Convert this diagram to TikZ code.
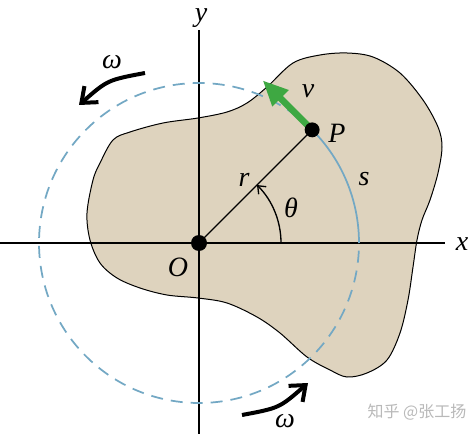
\documentclass[tikz,border=0pt]{standalone}
\usepackage{fontspec}
\setmainfont{Liberation Serif}
\newfontfamily\cjk{Noto Sans CJK SC}
\usetikzlibrary{arrows.meta,calc}
\definecolor{bodyfill}{RGB}{222,211,190}
\definecolor{circblue}{RGB}{115,168,196}
\definecolor{velgreen}{RGB}{62,168,66}
\definecolor{wmgray}{RGB}{185,185,185}
\begin{document}
\begin{tikzpicture}[x=0.75pt,y=-0.75pt,
  lbl/.style={font=\fontsize{21}{25}\selectfont\itshape, inner sep=0pt},
  wm/.style={font=\cjk\fontsize{12}{14}\selectfont, text=wmgray, inner sep=0pt},
  axis/.style={line width=1.1pt, draw=black},
  circ/.style={line width=1.3pt, draw=circblue},
  circdash/.style={circ, dash pattern=on 9pt off 6pt},
  velarrow/.style={line width=5pt, draw=velgreen, -{Triangle[length=19pt,width=16pt]}},
  omegaarrow/.style={line width=3pt, -{Straight Barb[length=10pt,width=16pt]}},
  thetaarrow/.style={line width=1pt, -{Straight Barb[length=5pt,width=8pt]}}]
\useasboundingbox (0,0) rectangle (474,434);
\fill[white] (0,0) rectangle (474,434);
\coordinate (O) at (199,243);
% body
\filldraw[fill=bodyfill, draw=black, line width=0.75pt] plot[smooth cycle, tension=0.55] coordinates {
(100,163) (113,140) (130,132) (163,123) (198,118) (227,112) (247,103) (267,87)
(293,63) (320,55) (347,53) (373,57) (400,73) (423,100) (438,127) (442,147)
(438,173) (430,200) (422,220) (417,240) (413,267) (408,300) (400,333) (387,360)
(367,373) (347,377) (330,370) (307,357) (280,333) (257,317) (227,303) (198,298)
(167,295) (140,288) (117,278) (100,263) (90,240) (87,213) (93,180)};
% axes
\coordinate (xs) at (0,243);
\coordinate (xe) at (445,243);
\coordinate (ys) at (199,30);
\coordinate (ye) at (199,434);
\draw[axis] (xs) -- (xe);
\draw[axis] (ys) -- (ye);
% circle
\coordinate (P) at ($(O)+(-45:160)$);
\coordinate (A) at ($(O)+(160,0)$);
\draw[circdash] (P) arc[start angle=-45, end angle=-360, radius=160];
\draw[circ] (A) arc[start angle=0, end angle=-45, radius=160];
% radius
\draw[line width=1pt] (O) -- (P);
% theta arc
\coordinate (T0) at ($(O)+(82,0)$);
\draw[thetaarrow] (T0) arc[start angle=0, end angle=-45, radius=82];
% velocity
\coordinate (V) at ($(P)+(-135:70)$);
\draw[velarrow] (P) -- (V);
% dots
\fill (O) circle[radius=6pt];
\fill (P) circle[radius=5.6pt];
% omega arrows
\coordinate (w1s) at (145,73);
\coordinate (w1e) at (79,105);
\draw[omegaarrow] (w1s) .. controls (107.6,80) .. (w1e);
\coordinate (w2s) at (242,415);
\coordinate (w2e) at (308,383);
\draw[omegaarrow] (w2s) .. controls (279.4,408) .. (w2e);
% labels
\node[lbl] (lx) at (462,244) {x};
\node[lbl] (ly) at (201,18) {y};
\node[lbl] (lO) at (178,267) {O};
\node[lbl] (lP) at (337,133) {P};
\node[lbl] (lv) at (308,91) {v};
\node[lbl] (lr) at (244,180) {r};
\node[lbl] (ls) at (364,179) {s};
\node[lbl] (lth) at (291,208) {θ};
\node[lbl] (lw1) at (112,62) {ω};
\node[lbl] (lw2) at (285,421) {ω};
\node[wm] (wmark) at (417,412) {知乎 @张工扬};
\end{tikzpicture}
\end{document}
